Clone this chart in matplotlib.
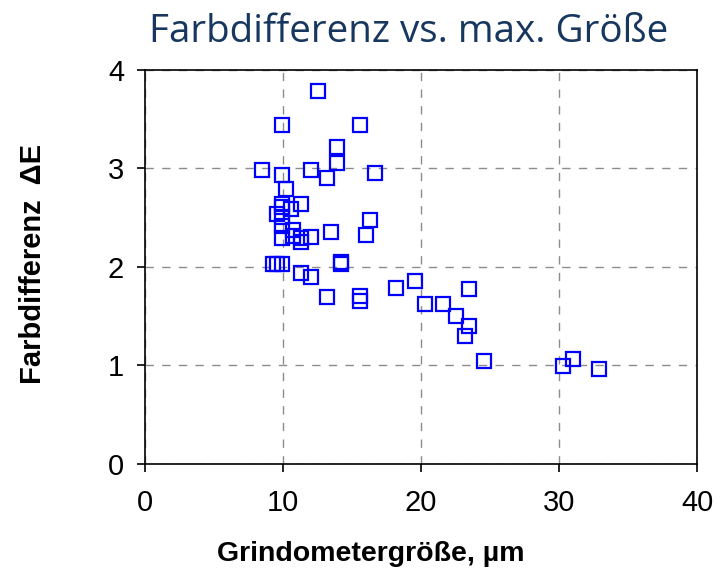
import matplotlib.pyplot as plt

# Grindometer size (µm) against colour difference ΔE
grindometer = [12.5, 9.9, 15.6, 13.9, 13.9, 8.5, 9.9, 12.0, 13.2, 16.7,
               10.2, 9.9, 9.9, 11.3, 9.6, 10.6, 9.9, 9.9, 10.7, 9.9,
               10.7, 11.3, 11.3, 12.0, 13.5, 16.3, 16.0, 9.3, 9.6, 9.9,
               14.2, 14.2, 11.3, 12.0, 13.2, 15.6, 15.6, 18.2, 19.6, 23.5,
               20.3, 21.6, 22.5, 23.5, 23.2, 24.6, 30.3, 31.0, 32.9]
delta_e = [3.78, 3.44, 3.44, 3.22, 3.05, 2.98, 2.93, 2.98, 2.90, 2.95,
           2.79, 2.64, 2.61, 2.64, 2.54, 2.59, 2.51, 2.41, 2.37, 2.29,
           2.31, 2.29, 2.25, 2.30, 2.35, 2.47, 2.32, 2.03, 2.03, 2.03,
           2.05, 2.03, 1.94, 1.90, 1.69, 1.70, 1.65, 1.79, 1.86, 1.77,
           1.62, 1.62, 1.50, 1.40, 1.30, 1.04, 0.99, 1.06, 0.96]

xticks = [0, 10, 20, 30, 40]
yticks = [0, 1, 2, 3, 4]

fig = plt.figure(figsize=(7.25, 5.8), dpi=100)
ax = fig.add_axes([0.2, 0.2, 0.7614, 0.68])

ax.plot(grindometer, delta_e, linestyle='none', marker='s', markersize=9.5,
        markerfacecolor='none', markeredgecolor='#0000ff', markeredgewidth=1.6)

ax.set_xlim(0, 40)
ax.set_ylim(0, 4)
ax.set_xticks(xticks)
ax.set_yticks(yticks)
ax.grid(True, color='#8c8c8c', linestyle=(0, (6, 6)), linewidth=1)
ax.set_axisbelow(True)

for sp in ax.spines.values():
    sp.set_color('black')
    sp.set_linewidth(1.2)
ax.tick_params(direction='out', length=6, width=1.2, labelsize=21,
               colors='black')
ax.tick_params(axis='x', pad=12)
ax.tick_params(axis='y', pad=9)
for lbl in ax.get_xticklabels() + ax.get_yticklabels():
    lbl.set_family('Liberation Sans')

fig.text(0.512, 0.045, 'Grindometergröße, µm', ha='center', va='center',
         fontsize=20.5, fontweight='bold', family='Liberation Sans')
fig.text(0.046, 0.545, 'Farbdifferenz  ΔE', ha='center', va='center',
         rotation=90, fontsize=21, fontweight='bold', family='Liberation Sans')
fig.text(0.564, 0.945, 'Farbdifferenz vs. max. Größe', ha='center', va='center',
         fontsize=27.8, color='#17375e', family='Open Sans')

fig.savefig('out.png', dpi=100)
